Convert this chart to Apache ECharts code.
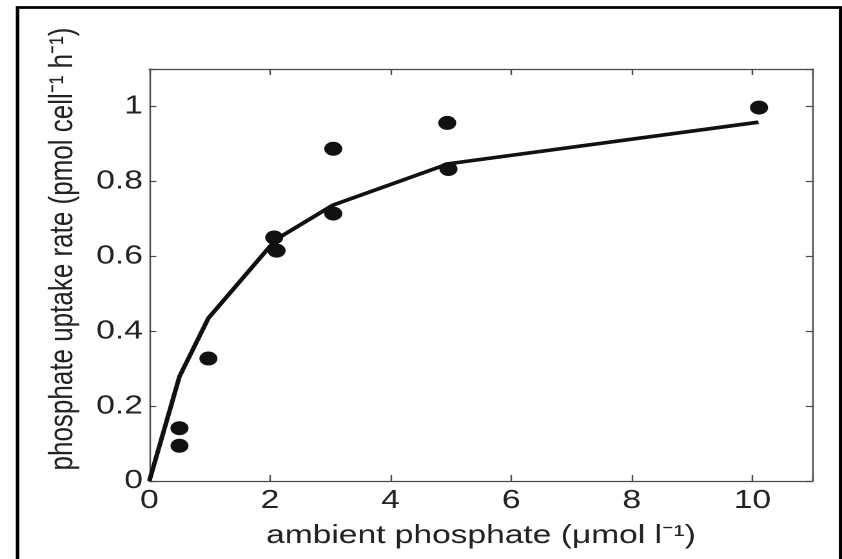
<!DOCTYPE html>
<html>
<head>
<meta charset="utf-8">
<script src="https://cdn.jsdelivr.net/npm/echarts@6/dist/echarts.min.js"></script>
<style>
html,body{margin:0;padding:0;background:#fff;overflow:hidden}
#wrap{width:842px;height:559px;overflow:hidden;position:relative}
#c{width:653px;height:559px;transform:scaleX(1.28943);transform-origin:0 0}
</style>
</head>
<body>
<div id="wrap"><div id="c"></div></div>
<script>
// measured data (ambient phosphate, uptake rate)
var pointX = [0.5, 0.5, 0.98, 2.07, 2.11, 3.05, 3.05, 4.94, 4.96, 10.11];
var pointY = [0.141, 0.094, 0.327, 0.650, 0.615, 0.887, 0.714, 0.956, 0.833, 0.997];
// model fit line
var fitX = [0, 0.5, 0.98, 2.1, 3.05, 4.96, 10.1];
var fitY = [0, 0.279, 0.435, 0.645, 0.737, 0.847, 0.958];
var xTicks = [0, 2, 4, 6, 8, 10];
var yTicks = [0, 0.2, 0.4, 0.6, 0.8, 1];
var xName = 'ambient phosphate (\u03bcmol l\u207b\u00b9)';
var yName = 'phosphate uptake rate (pmol cell\u207b\u00b9 h\u207b\u00b9)';

var FONT = "'Liberation Sans', Arial, Helvetica, sans-serif";
var axisCol = '#4a4a4a';
function pairs(xs, ys){ return xs.map(function(x,i){ return [x, ys[i]]; }); }

var chart = echarts.init(document.getElementById('c'), null, {renderer:'canvas', devicePixelRatio:2});
function line(){ return {show:true, onZero:false, lineStyle:{color:axisCol, width:1.2}}; }
function tick(len){ return {show:true, inside:true, length:len, lineStyle:{color:axisCol, width:1.2}}; }
chart.setOption({
  animation:false,
  backgroundColor:'#fff',
  grid:{left:115.8, right:22.7, top:69, bottom:78, containLabel:false},
  xAxis:[{
    type:'value', min:0, max:11, interval:2, position:'bottom',
    axisLine:line(), axisTick:tick(6), splitLine:{show:false},
    axisLabel:{color:'#222', fontSize:26, fontFamily:FONT, margin:7,
      formatter:function(v){ return xTicks.indexOf(v) >= 0 ? String(v) : ''; }},
    name:xName, nameLocation:'middle', nameGap:42,
    nameTextStyle:{color:'#222', fontSize:26, fontFamily:FONT}
  },{
    type:'value', min:0, max:11, interval:2, position:'top',
    axisLine:line(), axisTick:tick(6), axisLabel:{show:false}, splitLine:{show:false}
  }],
  yAxis:[{
    type:'value', min:0, max:1.1, interval:0.2, position:'left',
    axisLine:line(), axisTick:tick(5.4), splitLine:{show:false},
    axisLabel:{color:'#222', fontSize:26, fontFamily:FONT, margin:5,
      formatter:function(v){ var r=Math.round(v*10)/10; return yTicks.indexOf(r) >= 0 ? String(r) : ''; }},
    name:yName, nameLocation:'middle', nameGap:54,
    nameTextStyle:{color:'#222', fontSize:26, fontFamily:FONT, padding:[0,0,0,52]}
  },{
    type:'value', min:0, max:1.1, interval:0.2, position:'right',
    axisLine:line(), axisTick:tick(5.4), axisLabel:{show:false}, splitLine:{show:false}
  }],
  series:[{
    type:'line', data:pairs(fitX, fitY), symbol:'none',
    lineStyle:{color:'#111', width:3.6}, z:2
  },{
    type:'scatter', data:pairs(pointX, pointY), symbol:'circle', symbolSize:[14,14],
    itemStyle:{color:'#111', opacity:1}, z:3
  }],
  graphic:[{
    type:'rect', shape:{x:13.6, y:7.5, width:638.3, height:600},
    style:{fill:'none', stroke:'#000', lineWidth:2.7}, silent:true
  }]
});
</script>
</body>
</html>
